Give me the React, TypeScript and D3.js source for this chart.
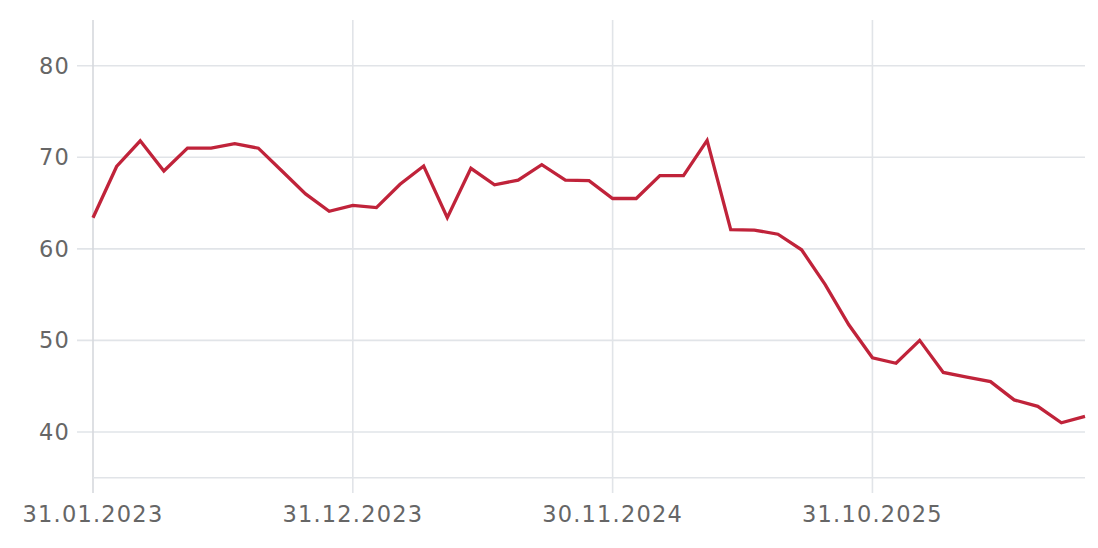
import React from "react";
import * as d3 from "d3";

const dates = [
  "31.01.2023","28.02.2023","31.03.2023","30.04.2023","31.05.2023","30.06.2023","31.07.2023","31.08.2023","30.09.2023","31.10.2023","30.11.2023","31.12.2023",
  "31.01.2024","29.02.2024","31.03.2024","30.04.2024","31.05.2024","30.06.2024","31.07.2024","31.08.2024","30.09.2024","31.10.2024","30.11.2024","31.12.2024",
  "31.01.2025","28.02.2025","31.03.2025","30.04.2025","31.05.2025","30.06.2025","31.07.2025","31.08.2025","30.09.2025","31.10.2025","30.11.2025","31.12.2025",
  "31.01.2026","28.02.2026","31.03.2026","30.04.2026","31.05.2026","30.06.2026","31.07.2026",
];

const values = [
  63.4, 69.0, 71.8, 68.5, 71.0, 71.0, 71.5, 71.0, 68.5, 66.0, 64.1, 64.75,
  64.5, 67.05, 69.05, 63.4, 68.8, 67.0, 67.5, 69.2, 67.5, 67.45, 65.5, 65.5,
  68.0, 68.0, 71.85, 62.1, 62.05, 61.6, 59.9, 56.1, 51.7, 48.1, 47.5, 50.0,
  46.5, 46.0, 45.5, 43.5, 42.8, 41.0, 41.7,
];

const xTickLabels = ["31.01.2023", "31.12.2023", "30.11.2024", "31.10.2025"];
const yTicks = [40, 50, 60, 70, 80];

const W = 1098;
const H = 548;
const left = 93;
const right = 1085;
const top = 20;
const bottom = 477.7;

export default function App() {
  const x = d3.scalePoint<string>().domain(dates).range([left, right]);
  const y = d3.scaleLinear().domain([35, 85]).range([bottom, top]);
  const line = d3
    .line<number>()
    .x((_, i) => x(dates[i]) as number)
    .y((d) => y(d));

  const gridColor = "#e1e4e8";
  const textColor = "#666666";
  const font = "'DejaVu Sans', sans-serif";

  return (
    <svg
      width={W}
      height={H}
      style={{ position: "absolute", left: 0, top: 0, background: "#fff" }}
    >
      {yTicks.map((t) => (
        <g key={t}>
          <line x1={77} x2={right} y1={y(t)} y2={y(t)} stroke={gridColor} strokeWidth={1.6} />
          <text
            x={70}
            y={y(t)}
            dy="0.36em"
            textAnchor="end"
            fontFamily={font}
            fontSize={22.5}
            letterSpacing={1.2}
            fill={textColor}
          >
            {t}
          </text>
        </g>
      ))}
      {xTickLabels.map((lab) => {
        const xx = x(lab) as number;
        return (
          <g key={lab}>
            <line
              x1={xx}
              x2={xx}
              y1={top}
              y2={493}
              stroke={lab === xTickLabels[0] ? "#d6d9dd" : gridColor}
              strokeWidth={1.6}
            />
            <text
              x={xx}
              y={522}
              textAnchor="middle"
              fontFamily={font}
              fontSize={22.5}
              letterSpacing={1.2}
              fill={textColor}
            >
              {lab}
            </text>
          </g>
        );
      })}
      <line x1={left} x2={right} y1={bottom} y2={bottom} stroke={gridColor} strokeWidth={1.6} />
      <path
        d={line(values) ?? ""}
        fill="none"
        stroke="#c0233a"
        strokeWidth={3.3}
        strokeLinejoin="miter"
        strokeLinecap="butt"
      />
    </svg>
  );
}
